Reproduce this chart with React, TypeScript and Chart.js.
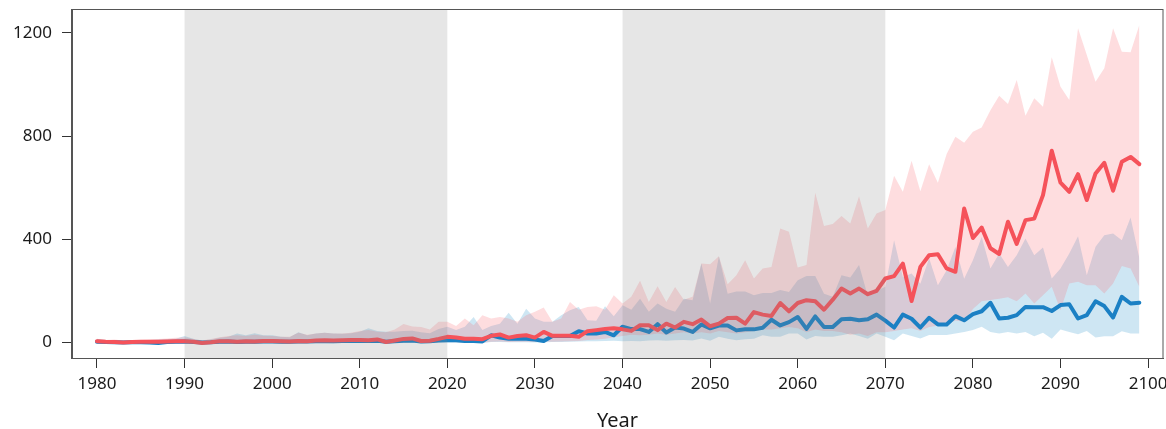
import React, { useEffect, useRef } from "react";
import { Chart, registerables } from "chart.js";

Chart.register(...registerables);

const FONT = "'Noto Sans', sans-serif";

const firstYear = 1980;
const lastYear = 2099;
const years: number[] = [];
for (let y = firstYear; y <= lastYear; y++) years.push(y);

const xTickValues = [1980, 1990, 2000, 2010, 2020, 2030, 2040, 2050, 2060, 2070, 2080, 2090, 2100];
const yTickValues = [0, 400, 800, 1200];
const shadedPeriods: [number, number][] = [
  [1990, 2020],
  [2040, 2070],
];
const xTitle = "Year";

// red scenario: mean line
const redMean = [
  5, 3, 2, 0, 2, 3, 3, 3, 4, 5,
  5, 3, -2, 1, 5, 5, 3, 5, 4, 6,
  6, 5, 4, 6, 5, 8, 9, 8, 9, 10,
  10, 9, 12, 2, 8, 14, 16, 6, 7, 14,
  22, 19, 15, 15, 13, 26, 31, 19, 25, 28,
  19, 41, 26, 26, 26, 22, 44, 48, 52, 55,
  51, 45, 67, 67, 48, 73, 58, 80, 71, 89,
  63, 73, 95, 96, 73, 118, 108, 103, 153, 121,
  153, 164, 160, 127, 166, 209, 190, 209, 187, 200,
  248, 257, 306, 161, 293, 338, 342, 287, 274, 519,
  405, 445, 365, 343, 468, 382, 474, 480, 571, 743,
  619, 584, 652, 552, 655, 696, 588, 700, 719, 691,
];

const redUpper = [
  15, 10, 12, 8, 10, 10, 12, 14, 16, 18,
  20, 14, 8, 14, 20, 25, 28, 25, 30, 26,
  25, 22, 22, 38, 30, 35, 38, 35, 35, 38,
  45, 48, 42, 40, 50, 72, 62, 60, 50, 80,
  80, 64, 93, 67, 106, 93, 99, 93, 80, 106,
  119, 136, 80, 93, 157, 127, 138, 140, 127, 183,
  151, 177, 239, 157, 218, 157, 215, 166, 177, 306,
  303, 334, 226, 261, 319, 248, 287, 293, 442, 429,
  291, 300, 580, 451, 459, 490, 461, 567, 442, 500,
  513, 646, 584, 704, 586, 691, 619, 730, 797, 774,
  816, 833, 900, 956, 924, 1017, 878, 946, 913, 1105,
  991, 939, 1217, 1114, 1010, 1062, 1217, 1126, 1124, 1230,
];

const redLower = [
  -1, -2, -3, -4, -3, -2, -3, -4, -3, -2,
  -2, -3, -5, -4, -2, -2, -3, -2, -3, -2,
  -2, -3, -3, -2, -2, -1, -1, -2, -1, 0,
  0, -1, 0, -3, -1, 0, 1, -2, -1, 1,
  2, 1, 0, 0, -1, 3, 4, 2, 3, 3,
  2, 5, 3, 4, 5, 6, 10, 12, 15, 20,
  25, 30, 28, 30, 35, 30, 35, 40, 35, 40,
  35, 45, 40, 35, 40, 45, 50, 50, 55, 60,
  55, 40, 50, 45, 45, 40, 30, 35, 25, 40,
  40, 45, 50, 55, 45, 60, 65, 70, 85, 80,
  130, 160, 165, 170, 175, 160, 190, 151, 183, 216,
  125, 229, 235, 222, 222, 190, 229, 296, 287, 216,
];

// blue scenario: mean line
const blueMean = [
  3, 2, 1, 0, 1, 1, 0, -2, 2, 3,
  4, 2, 0, 1, 3, 4, 2, 3, 3, 4,
  4, 3, 3, 4, 4, 5, 6, 5, 6, 6,
  7, 6, 7, 3, 5, 7, 8, 4, 5, 8,
  9, 9, 6, 6, 4, 28, 19, 15, 15, 15,
  12, 6, 25, 25, 25, 44, 35, 35, 41, 28,
  61, 52, 52, 41, 71, 39, 58, 54, 41, 70,
  55, 66, 66, 47, 51, 51, 57, 88, 66, 79,
  99, 53, 101, 60, 60, 90, 92, 86, 90, 108,
  85, 58, 108, 92, 58, 96, 70, 70, 102, 86,
  110, 121, 154, 93, 96, 106, 138, 137, 137, 122,
  145, 148, 93, 106, 160, 141, 97, 177, 151, 154,
];

const blueUpper = [
  12, 8, 10, 8, 8, 8, 10, 12, 14, 15,
  25, 15, 8, 12, 18, 22, 35, 28, 36, 28,
  28, 22, 20, 40, 28, 35, 38, 35, 34, 36,
  42, 55, 45, 42, 42, 45, 46, 40, 36, 52,
  61, 48, 61, 99, 48, 64, 73, 115, 73, 131,
  93, 80, 80, 106, 125, 138, 86, 84, 140, 102,
  144, 127, 170, 119, 151, 131, 119, 170, 164, 306,
  151, 334, 189, 198, 198, 183, 192, 192, 203, 196,
  241, 258, 258, 189, 177, 261, 252, 300, 180, 200,
  216, 396, 254, 267, 228, 326, 222, 280, 370, 247,
  319, 409, 287, 345, 293, 338, 403, 338, 368, 248,
  287, 345, 412, 261, 371, 416, 422, 396, 484, 326,
];

const blueLower = [
  -3, -4, -5, -5, -4, -5, -6, -7, -5, -4,
  -3, -4, -6, -5, -3, -3, -4, -3, -4, -3,
  -3, -4, -4, -3, -3, -2, -2, -3, -2, -2,
  -1, -2, -1, -4, -2, -1, 0, -3, -2, 0,
  0, 0, -1, -1, -2, 2, 2, 1, 1, 1,
  0, 1, 2, 2, 3, 4, 5, 5, 6, 7,
  5, 6, 5, 8, 9, 7, 9, 10, 8, 16,
  7, 22, 15, 9, 13, 15, 28, 22, 22, 35,
  35, 12, 25, 22, 22, 28, 35, 25, 15, 35,
  22, 9, 35, 25, 16, 29, 29, 29, 35, 41,
  48, 61, 41, 35, 41, 35, 41, 24, 38, 15,
  50, 41, 32, 45, 19, 24, 24, 44, 35, 35,
];

const RED = "#f5525a";
const BLUE = "#1b80c4";
const RED_FILL = "rgba(250,100,110,0.22)";
const BLUE_FILL = "rgba(30,140,200,0.22)";
const AXIS = "#333";

const toPoints = (arr: number[]) => years.map((yr, i) => ({ x: yr, y: arr[i] }));

const overlayPlugin = {
  id: "overlay",
  afterDatasetsDraw(chart: any) {
    const { ctx, chartArea: a, scales } = chart;
    const x = scales.x;
    ctx.save();
    ctx.fillStyle = "rgba(128,128,128,0.2)";
    for (const [s, e] of shadedPeriods) {
      const x0 = x.getPixelForValue(s);
      const x1 = x.getPixelForValue(e);
      ctx.fillRect(x0, a.top, x1 - x0, a.bottom - a.top);
    }
    ctx.restore();
  },
  afterDraw(chart: any) {
    const { ctx, chartArea: a } = chart;
    ctx.save();
    ctx.strokeStyle = "#555";
    ctx.lineWidth = 1;
    ctx.strokeRect(Math.round(a.left) - 0.5, Math.round(a.top) + 0.5, Math.round(a.right - a.left) + 0.5, Math.round(a.bottom - a.top));
    ctx.restore();
  },
};

export default function App() {
  const ref = useRef<HTMLCanvasElement | null>(null);
  useEffect(() => {
    if (!ref.current) return;
    const lineDs = (data: number[], color: string) => ({
      data: toPoints(data),
      borderColor: color,
      borderWidth: 4,
      pointRadius: 0,
      fill: false,
      tension: 0,
      borderJoinStyle: "round" as const,
      borderCapStyle: "round" as const,
    });
    const bandDs = (data: number[], fill: any, bg: string) => ({
      data: toPoints(data),
      borderColor: "rgba(0,0,0,0)",
      borderWidth: 0,
      pointRadius: 0,
      fill,
      backgroundColor: bg,
      tension: 0,
    });
    const chart = new Chart(ref.current, {
      type: "line",
      data: {
        datasets: [
          lineDs(redMean, RED),
          lineDs(blueMean, BLUE),
          bandDs(redUpper, "+1", RED_FILL),
          bandDs(redLower, false, "rgba(0,0,0,0)"),
          bandDs(blueUpper, "+1", BLUE_FILL),
          bandDs(blueLower, false, "rgba(0,0,0,0)"),
        ],
      },
      options: {
        animation: false,
        responsive: false,
        devicePixelRatio: 1,
        layout: { padding: { top: 9, right: 3, left: 0, bottom: 0 } },
        plugins: { legend: { display: false }, tooltip: { enabled: false } },
        scales: {
          x: {
            type: "linear",
            min: 1977.15,
            max: 2101.7,
            afterBuildTicks: (s: any) => {
              s.ticks = xTickValues.map((v) => ({ value: v }));
            },
            ticks: {
              autoSkip: false,
              maxRotation: 0,
              padding: 6,
              color: "#1a1a1a",
              font: { family: FONT, size: 17 },
              callback: (v: any) => String(v),
            },
            grid: { drawOnChartArea: false, drawTicks: true, tickLength: 10, tickColor: AXIS },
            border: { display: true, color: "#555" },
            title: {
              display: true,
              text: xTitle,
              color: "#1a1a1a",
              padding: { top: 0, bottom: -2 },
              font: { family: FONT, size: 20, lineHeight: 1 },
            },
            afterFit: (s: any) => {
              s.height = 71;
              s.paddingLeft = 0;
              s.paddingRight = 0;
            },
          },
          y: {
            min: -60,
            max: 1292,
            afterBuildTicks: (s: any) => {
              s.ticks = yTickValues.map((v) => ({ value: v }));
            },
            ticks: {
              padding: 10,
              color: "#1a1a1a",
              font: { family: FONT, size: 17 },
              callback: (v: any) => String(v),
            },
            grid: { drawOnChartArea: false, drawTicks: true, tickLength: 10, tickColor: AXIS },
            border: { display: true, color: "#555" },
            afterFit: (s: any) => {
              s.width = 72;
              s.paddingTop = 0;
              s.paddingBottom = 0;
            },
          },
        },
      },
      plugins: [overlayPlugin],
    });
    return () => chart.destroy();
  }, []);
  return (
    <div style={{ position: "fixed", left: 0, top: 0, width: 1166, height: 429, background: "#fff" }}>
      <canvas ref={ref} width={1166} height={429} style={{ display: "block" }} />
    </div>
  );
}
